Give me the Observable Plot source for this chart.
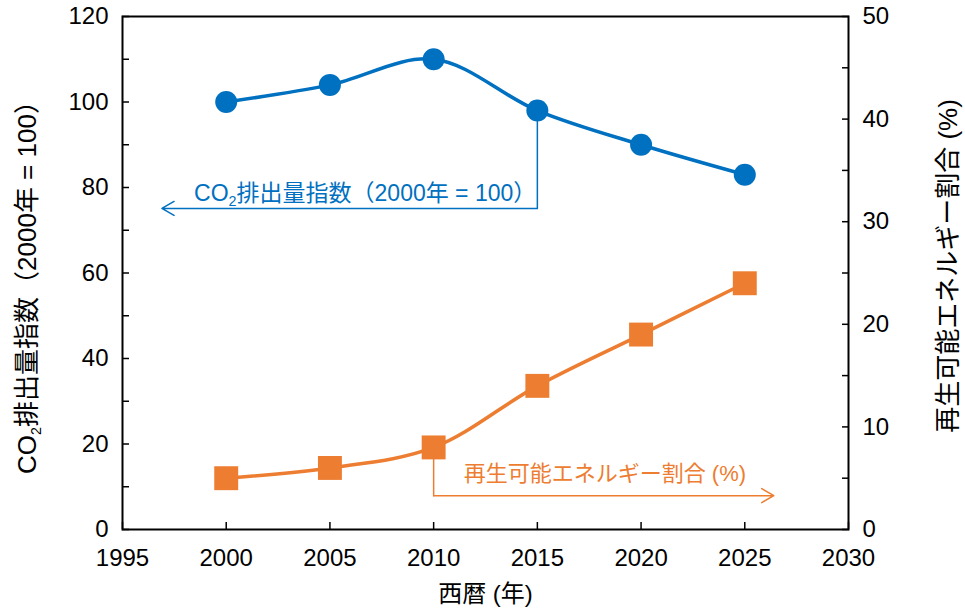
<!DOCTYPE html>
<html><head><meta charset="utf-8">
<script src="https://cdn.jsdelivr.net/npm/d3@7"></script>
<script src="https://cdn.jsdelivr.net/npm/@observablehq/plot@0.6"></script>
<style>body{margin:0;background:#fff} svg{display:block}</style>
</head><body><div id="chart"></div>
<script>
const years = [2000, 2005, 2010, 2015, 2020, 2025];
const co2Index = [100, 104, 110, 98, 90, 83];
const renewableShare = [5.0, 6.0, 8.0, 14.0, 19.0, 24.0];
const xTicks = [1995, 2000, 2005, 2010, 2015, 2020, 2025, 2030];
const leftTicks = [0, 20, 40, 60, 80, 100, 120];
const leftMinorTicks = [0, 10, 20, 30, 40, 50, 60, 70, 80, 90, 100, 110, 120];
const rightTicks = [0, 10, 20, 30, 40, 50];
const rightMinorTicks = [0, 5, 10, 15, 20, 25, 30, 35, 40, 45, 50];
const xLabel = "西暦 (年)";
const leftLabel = "CO₂排出量指数（2000年 = 100）";
const rightLabel = "再生可能エネルギー割合 (%)";
const co2Note = "CO₂排出量指数（2000年 = 100）";
const renewNote = "再生可能エネルギー割合 (%)";

const BLUE = "#0070C0", ORANGE = "#ED7D31";
const FONT = "'Liberation Sans', Arial, 'Noto Sans CJK JP', sans-serif";
const k = 120 / 50; // right axis -> left axis
const data = years.map((y, i) => ({year: y, co2: co2Index[i], ren: renewableShare[i]}));

// callout anchors (data units)
const co2Callout = [{x: 2015, y: co2Index[3]}, {x: 2015, y: 75.1}];
const co2Arrow = [{x1: 2015, y1: 75.1, x2: 1996.9, y2: 75.1}];
const renCallout = [{x: 2010, y: renewableShare[2] * k}, {x: 2010, y: 3.3 * k}];
const renArrow = [{x1: 2010, y1: 3.3 * k, x2: 2026.4, y2: 3.3 * k}];

const chart = Plot.plot({
  width: 965, height: 610,
  marginLeft: 122, marginRight: 117, marginTop: 16, marginBottom: 81,
  x: {domain: [1995, 2030]},
  y: {domain: [0, 120]},
  style: {fontFamily: FONT, fontSize: "24px", color: "#000", background: "#fff"},
  marks: [
    Plot.axisX(xTicks, {tickSize: 0, tickPadding: 19, fontSize: 24, tickFormat: d => String(d), label: null}),
    Plot.axisX(xTicks, {tickSize: -7, strokeWidth: 1.5, text: null, label: null}),
    Plot.axisY(leftTicks, {anchor: "left", tickSize: 0, tickPadding: 14, fontSize: 24, tickFormat: d => String(d), label: null}),
    Plot.axisY(leftMinorTicks, {anchor: "left", tickSize: -7, strokeWidth: 1.5, text: null, label: null}),
    Plot.axisY(rightTicks, {anchor: "right", y: d => d * k, text: d => String(d), tickSize: 0, tickPadding: 14, fontSize: 24, label: null}),
    Plot.axisY(rightMinorTicks, {anchor: "right", y: d => d * k, tickSize: -7, strokeWidth: 1.5, text: null, label: null}),
    Plot.frame({stroke: "#000", strokeWidth: 2}),
    Plot.text([xLabel], {frameAnchor: "bottom", dy: 65, fontSize: 24, textAnchor: "middle", lineAnchor: "middle"}),
    Plot.text([leftLabel], {frameAnchor: "left", dx: -95, dy: 8, rotate: -90, fontSize: 26, textAnchor: "middle", lineAnchor: "middle"}),
    Plot.text([rightLabel], {frameAnchor: "right", dx: 100, dy: -7, rotate: -90, fontSize: 26, textAnchor: "middle", lineAnchor: "middle"}),
    // callouts
    Plot.line(co2Callout, {x: "x", y: "y", stroke: BLUE, strokeWidth: 1.5}),
    Plot.arrow(co2Arrow, {x1: "x1", y1: "y1", x2: "x2", y2: "y2", stroke: BLUE, strokeWidth: 1.5, headLength: 14, headAngle: 60}),
    Plot.text([co2Note], {x: 2014.95, y: 78.6, textAnchor: "end", lineAnchor: "middle", fill: BLUE, fontSize: 23}),
    Plot.line(renCallout, {x: "x", y: "y", stroke: ORANGE, strokeWidth: 1.5}),
    Plot.arrow(renArrow, {x1: "x1", y1: "y1", x2: "x2", y2: "y2", stroke: ORANGE, strokeWidth: 1.5, headLength: 14, headAngle: 60}),
    Plot.text([renewNote], {x: 2011.45, y: 13.1, textAnchor: "start", lineAnchor: "middle", fill: ORANGE, fontSize: 22}),
    // series
    Plot.line(data, {x: "year", y: "co2", stroke: BLUE, strokeWidth: 3.5, curve: "catmull-rom"}),
    Plot.dot(data, {x: "year", y: "co2", r: 11, fill: BLUE, stroke: null}),
    Plot.line(data, {x: "year", y: d => d.ren * k, stroke: ORANGE, strokeWidth: 3.5, curve: "catmull-rom"}),
    Plot.dot(data, {x: "year", y: d => d.ren * k, symbol: "square", r: 13.5, fill: ORANGE, stroke: null})
  ]
});
// subscript for CO2
chart.querySelectorAll("text").forEach(t => {
  if (t.children.length === 0 && t.textContent.includes("₂")) {
    const parts = t.textContent.split("₂");
    const fs = parseFloat(t.getAttribute("font-size") || getComputedStyle(t).fontSize) || 22;
    t.textContent = "";
    const ns = "http://www.w3.org/2000/svg";
    const a = document.createElementNS(ns, "tspan"); a.textContent = parts[0];
    const b = document.createElementNS(ns, "tspan"); b.textContent = "2";
    b.setAttribute("font-size", fs * 0.65); b.setAttribute("dy", fs * 0.22);
    const c = document.createElementNS(ns, "tspan"); c.textContent = parts[1];
    c.setAttribute("dy", -fs * 0.22);
    t.append(a, b, c);
  }
});
document.getElementById("chart").append(chart);
</script>
</body></html>
